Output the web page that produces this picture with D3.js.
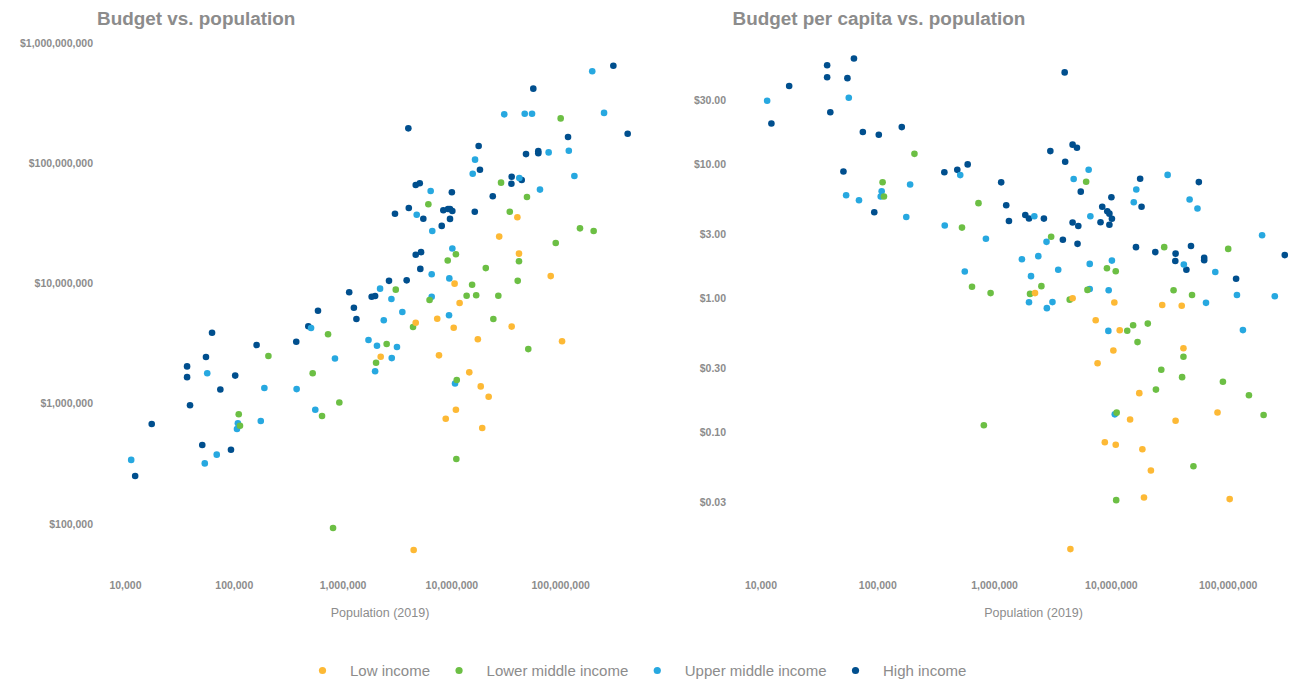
<!DOCTYPE html>
<html><head><meta charset="utf-8">
<script src="https://cdn.jsdelivr.net/npm/d3@7"></script>
<style>body{margin:0;background:#fff;} svg{display:block;font-family:"Liberation Sans",Arial,Helvetica,sans-serif;}</style>
</head><body><svg id="c" width="1296" height="683"></svg>
<script>
const incomeGroups = ["Low income","Lower middle income","Upper middle income","High income"];
const groupColors = ["#fdb935","#6cbf44","#27a8e0","#004f8e"];

const lowPop = [4.04e7,2.75e7,4.18e7,1.07e7,8.18e7,1.19e7,4.70e6,7.41e6,1.05e7,3.58e7,1.75e7,1.04e8,2.24e6,7.69e6,1.46e7,1.86e7,2.20e7,1.10e7,8.87e6,1.92e7,4.50e6];
const lowBudget = [3.55e7,2.45e7,1.77e7,9.95e6,1.15e7,6.87e6,4.71e6,5.08e6,4.28e6,4.37e6,3.43e6,3.30e6,2.45e6,2.52e6,1.82e6,1.39e6,1.14e6,8.89e5,7.48e5,6.27e5,6.05e4];

const lowerMidPop = [1.01e8,2.86e7,4.95e7,6.14e6,3.44e7,1.52e8,2.03e8,9.10e7,1.10e7,9.25e6,4.18e7,2.07e7,1.55e7,4.07e7,3.08e6,1.38e7,1.69e7,2.70e7,6.30e6,4.44e6,2.43e7,5.09e7,2.54e6,2.03e6,7.35e5,2.08e5,5.31e5,9.33e5,6.47e5,1.11e5,1.14e5,1.12e7,1.11e7,8.17e5];
const lowerMidBudget = [2.36e8,6.89e7,5.24e7,4.55e7,3.95e7,2.87e7,2.73e7,2.17e7,1.75e7,1.55e7,1.53e7,1.34e7,9.75e6,1.05e7,8.87e6,7.90e6,7.96e6,7.90e6,7.28e6,4.34e6,5.06e6,2.84e6,3.13e6,2.19e6,3.77e6,2.49e6,1.79e6,1.02e6,7.89e5,8.15e5,6.55e5,1.57e6,3.46e5,9.23e4];

const upperMidPop = [1.97e8,3.06e7,4.72e7,5.51e7,2.53e8,7.83e7,1.20e8,1.65e7,1.57e7,1.35e8,4.21e7,6.45e6,6.52e7,4.80e6,6.67e6,1.02e7,6.59e6,9.57e6,2.21e6,2.81e6,6.59e6,3.54e6,2.39e6,9.51e6,5.13e5,1.73e6,2.07e6,3.16e6,2.83e6,1.99e6,8.51e5,5.70e4,1.91e5,3.78e5,5.61e5,1.09e5,1.07e5,1.77e5,6.97e4,5.41e4,1.14e4,1.08e7];
const upperMidBudget = [5.82e8,2.55e8,2.58e8,2.58e8,2.62e8,1.23e8,1.27e8,1.07e8,8.18e7,7.82e7,7.53e7,5.87e7,6.03e7,3.73e7,2.73e7,1.95e7,1.19e7,1.10e7,9.04e6,7.41e6,7.74e6,5.78e6,4.93e6,5.43e6,4.26e6,3.38e6,3.03e6,2.96e6,2.39e6,1.86e6,2.37e6,1.79e6,1.35e6,1.32e6,8.89e5,6.86e5,6.15e5,7.16e5,3.76e5,3.18e5,3.40e5,1.47e6];

const highPop = [3.08e8,5.66e7,4.02e6,1.18e8,4.17e8,1.78e7,4.85e7,6.29e7,6.29e7,1.83e7,3.58e7,4.43e7,3.56e7,4.70e6,5.12e6,1.01e7,2.40e7,4.06e6,3.03e6,5.52e6,8.43e6,9.31e6,9.71e6,1.02e7,9.71e6,1.64e7,8.15e6,4.70e6,5.26e6,5.18e6,2.67e6,3.88e6,1.15e6,1.85e6,1.99e6,1.27e6,5.94e5,1.34e6,4.84e5,6.31e4,1.62e5,3.75e5,5.55e4,3.72e4,3.72e4,1.03e5,7.52e4,3.96e4,1.76e4,5.13e4,9.42e4,1.24e4];
const highBudget = [6.47e8,4.17e8,1.95e8,1.65e8,1.76e8,1.39e8,1.19e8,1.26e8,1.21e8,8.83e7,7.72e7,7.24e7,6.75e7,6.59e7,6.81e7,5.73e7,5.31e7,4.24e7,3.80e7,3.45e7,4.06e7,4.16e7,4.16e7,4.00e7,3.44e7,3.95e7,3.01e7,1.73e7,1.82e7,1.32e7,1.05e7,1.06e7,8.43e6,7.74e6,7.85e6,6.28e6,5.93e6,5.06e6,4.40e6,3.89e6,3.07e6,3.27e6,2.44e6,2.04e6,1.66e6,1.71e6,1.31e6,9.68e5,6.76e5,4.53e5,4.13e5,2.50e5];

const popTicks = [1e4,1e5,1e6,1e7,1e8];
const budgetTicks = [1e5,1e6,1e7,1e8,1e9];
const perCapitaTicks = [0.03,0.1,0.3,1,3,10,30];

const groupPops = [lowPop, lowerMidPop, upperMidPop, highPop];
const groupBudgets = [lowBudget, lowerMidBudget, upperMidBudget, highBudget];

const points = [];
[3,2,1,0].forEach(g => {
  groupPops[g].forEach((p, i) => {
    points.push({g, pop: p, budget: groupBudgets[g][i], perCap: groupBudgets[g][i] / p});
  });
});

const svg = d3.select("#c");
const grey = "#8c8c8c";

const xL = d3.scaleLog().domain([1e4,1e8]).range([125,560.2]);
const yL = d3.scaleLog().domain([1e5,1e9]).range([523.8,43]);
const xR = d3.scaleLog().domain([1e4,1e8]).range([760.5,1227.7]);
const yR = d3.scaleLog().domain([0.1,10]).range([432.3,164.3]);

const fmtComma = d3.format(",");

function styleAxis(g){
  g.select(".domain").remove();
  g.selectAll(".tick line").remove();
  g.attr("font-family",null).attr("font-size",null);
  g.selectAll("text").attr("fill",grey).attr("font-weight","bold").attr("font-size","10.5px")
    .attr("font-family",'"Liberation Sans",Arial,sans-serif');
}

svg.append("g").attr("transform","translate(97,0)")
  .call(d3.axisLeft(yL).tickValues(budgetTicks).tickSize(0).tickPadding(4).tickFormat(d => "$" + fmtComma(d)))
  .call(styleAxis);
svg.append("g").attr("transform","translate(0,577)")
  .call(d3.axisBottom(xL).tickValues(popTicks).tickSize(0).tickPadding(4.5).tickFormat(fmtComma))
  .call(styleAxis);

svg.append("g").attr("transform","translate(730,0)")
  .call(d3.axisLeft(yR).tickValues(perCapitaTicks).tickSize(0).tickPadding(4).tickFormat(d => "$" + d.toFixed(2)))
  .call(styleAxis);
svg.append("g").attr("transform","translate(0,577)")
  .call(d3.axisBottom(xR).tickValues(popTicks).tickSize(0).tickPadding(4.5).tickFormat(fmtComma))
  .call(styleAxis);

svg.append("text").attr("x",97).attr("y",25).text("Budget vs. population")
  .attr("fill",grey).attr("font-weight","bold").attr("font-size","18.9px");
svg.append("text").attr("x",732.5).attr("y",25).text("Budget per capita vs. population")
  .attr("fill",grey).attr("font-weight","bold").attr("font-size","18.9px");

svg.append("text").attr("x",380).attr("y",617).attr("text-anchor","middle").text("Population (2019)")
  .attr("fill",grey).attr("font-size","12.5px");
svg.append("text").attr("x",1033.6).attr("y",617).attr("text-anchor","middle").text("Population (2019)")
  .attr("fill",grey).attr("font-size","12.5px");

svg.append("g").selectAll("circle").data(points).join("circle")
  .attr("cx", d => xL(d.pop)).attr("cy", d => yL(d.budget)).attr("r",3.3)
  .attr("fill", d => groupColors[d.g]);
svg.append("g").selectAll("circle").data(points).join("circle")
  .attr("cx", d => xR(d.pop)).attr("cy", d => yR(d.perCap)).attr("r",3.3)
  .attr("fill", d => groupColors[d.g]);

const leg = svg.append("g");
let cx = 322.5;
incomeGroups.forEach((name, i) => {
  leg.append("circle").attr("cx",cx).attr("cy",670.5).attr("r",3.6).attr("fill",groupColors[i]);
  const t = leg.append("text").attr("x",cx+27.5).attr("y",675.5).text(name)
    .attr("fill",grey).attr("font-size","15px");
  cx = cx + 27.5 + t.node().getComputedTextLength() + 29;
});
</script></body></html>
